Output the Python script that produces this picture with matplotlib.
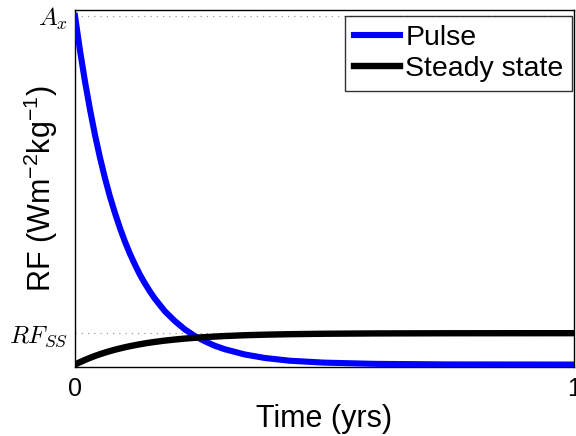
import matplotlib
matplotlib.use("Agg")
import matplotlib.pyplot as plt

plt.rcParams['font.family'] = ['Liberation Sans', 'DejaVu Sans']
plt.rcParams['mathtext.fontset'] = 'custom'
plt.rcParams['mathtext.rm'] = 'Liberation Sans'
plt.rcParams['mathtext.it'] = 'Liberation Sans:italic'
plt.rcParams['mathtext.bf'] = 'Liberation Sans:bold'

# Data (time in yrs, RF relative to A_x)
time = [0, 0.01, 0.02, 0.03, 0.04, 0.05, 0.06, 0.07, 0.08, 0.09, 0.10, 0.11,
        0.12, 0.13, 0.14, 0.15, 0.16, 0.18, 0.20, 0.22, 0.24, 0.26, 0.28, 0.30,
        0.34, 0.38, 0.43, 0.50, 0.60, 0.75, 1.0]
pulse = [1.000, 0.901, 0.812, 0.732, 0.659, 0.594, 0.535, 0.482, 0.435, 0.392,
         0.353, 0.318, 0.287, 0.258, 0.233, 0.210, 0.189, 0.153, 0.125, 0.101,
         0.082, 0.067, 0.054, 0.044, 0.029, 0.019, 0.011, 0.0055, 0.002,
         0.0004, 0.0]
steady = [0.0, 0.0069, 0.0133, 0.0192, 0.0247, 0.0297, 0.0343, 0.0386, 0.0426,
          0.0462, 0.0496, 0.0527, 0.0555, 0.0582, 0.0607, 0.0629, 0.0650, 0.0687,
          0.0718, 0.0745, 0.0767, 0.0787, 0.0803, 0.0818, 0.0841, 0.0857, 0.0871,
          0.0884, 0.0893, 0.0898, 0.0900]
ytick_vals = [0.09, 1.0]
ytick_labels = [r'$RF_{SS}$', r'$A_x$']
xtick_vals = [0, 1]
xtick_labels = ['0', '1']

fig = plt.figure(figsize=(5.76, 4.36), dpi=100)
ax = fig.add_axes([75/576, 1-367/436, 499/576, 357/436])

for yv in ytick_vals:
    ax.axhline(yv, color='#999999', linestyle=(0, (1, 4)), linewidth=0.9, zorder=1)

ax.plot(time, pulse, color='#0000ff', linewidth=4.4, label='Pulse', zorder=3,
        solid_joinstyle='round')
ax.plot(time, steady, color='black', linewidth=4.6, label='Steady state', zorder=3,
        solid_joinstyle='round')

ax.set_xlim(0, 1)
ax.set_ylim(-0.007, 1.017)
ax.set_xticks(xtick_vals)
ax.set_xticklabels(xtick_labels, fontsize=18)
ax.set_yticks(ytick_vals)
ax.set_yticklabels(ytick_labels, fontsize=18, math_fontfamily='cm')
ax.tick_params(axis='x', direction='in', length=0, pad=7)
ax.tick_params(axis='y', direction='in', length=0, pad=5)
for s in ax.spines.values():
    s.set_linewidth(1.0)

ax.set_xlabel('Time (yrs)', fontsize=22)
ax.xaxis.set_label_coords(0.5, -0.104)
ax.set_ylabel(r'RF (Wm$^{-2}$kg$^{-1}$)', fontsize=22)
ax.yaxis.set_label_coords(-0.03, 0.5)

leg = ax.legend(loc='upper right', bbox_to_anchor=(0.996, 0.983), fontsize=20.5,
                frameon=True, fancybox=False, handlelength=1.6, handletextpad=0.2,
                borderpad=0.3, labelspacing=0.2, borderaxespad=0.0)
leg.get_frame().set_edgecolor('black')
leg.get_frame().set_linewidth(1.0)

fig.savefig('out.png', dpi=100)
